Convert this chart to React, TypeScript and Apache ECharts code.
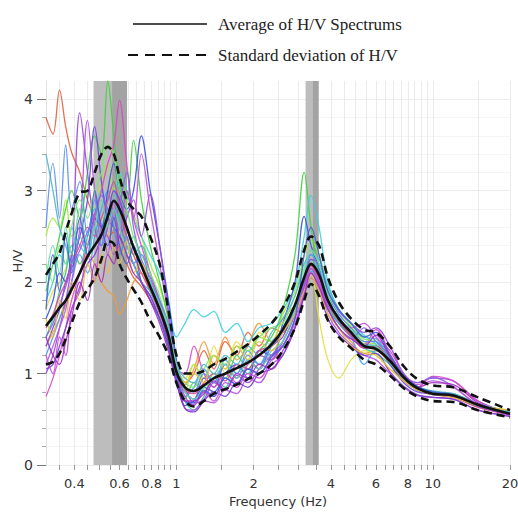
import React, { useEffect, useRef } from 'react';
import * as echarts from 'echarts';

// Frequencies (Hz) at which the spectra are sampled
const FREQ = [0.31, 0.33, 0.35, 0.37, 0.39, 0.42, 0.45, 0.48, 0.51, 0.54, 0.57, 0.6, 0.64, 0.68, 0.73, 0.79, 0.86, 0.93, 1.0, 1.08, 1.17, 1.28, 1.4, 1.55, 1.72, 1.9, 2.1, 2.35, 2.6, 2.9, 3.15, 3.35, 3.6, 3.9, 4.3, 4.8, 5.4, 6.0, 6.8, 7.7, 8.7, 10, 12, 15, 20];

const MEAN = [1.52, 1.62, 1.72, 1.8, 1.92, 2.1, 2.28, 2.4, 2.52, 2.72, 2.89, 2.8, 2.6, 2.38, 2.18, 1.95, 1.7, 1.42, 1.02, 0.85, 0.81, 0.87, 0.95, 1.0, 1.06, 1.12, 1.2, 1.32, 1.48, 1.75, 2.05, 2.2, 2.08, 1.8, 1.6, 1.45, 1.3, 1.27, 1.14, 0.96, 0.84, 0.78, 0.76, 0.66, 0.56];
const STD_UPPER = [2.08, 2.2, 2.32, 2.55, 2.75, 2.98, 3.0, 3.2, 3.4, 3.48, 3.4, 3.15, 2.9, 2.8, 2.72, 2.5, 2.2, 1.7, 1.2, 1.0, 1.0, 1.03, 1.1, 1.16, 1.24, 1.32, 1.42, 1.55, 1.72, 2.0, 2.35, 2.5, 2.4, 2.05, 1.78, 1.6, 1.48, 1.45, 1.3, 1.08, 0.94, 0.87, 0.85, 0.74, 0.6];
const STD_LOWER = [1.1, 1.13, 1.22, 1.38, 1.55, 1.78, 1.92, 2.05, 2.25, 2.45, 2.42, 2.2, 2.04, 1.92, 1.78, 1.58, 1.4, 1.2, 0.9, 0.7, 0.64, 0.7, 0.78, 0.83, 0.88, 0.94, 1.0, 1.1, 1.25, 1.5, 1.8, 1.98, 1.85, 1.58, 1.4, 1.28, 1.15, 1.1, 0.98, 0.84, 0.75, 0.7, 0.69, 0.6, 0.52];

// Individual H/V spectra
const HV_01 = [3.8, 3.62, 4.1, 3.7, 3.42, 3.2, 2.9, 2.7, 2.6, 2.5, 2.55, 2.35, 2.2, 2.05, 1.95, 1.8, 1.6, 1.3, 0.98, 0.9, 1.0, 1.25, 1.05, 1.35, 1.2, 1.45, 1.3, 1.5, 1.45, 1.75, 1.95, 2.15, 2.0, 1.75, 1.55, 1.4, 1.28, 1.3, 1.12, 0.94, 0.84, 0.8, 0.77, 0.66, 0.57];
const HV_02 = [1.3, 1.45, 1.6, 1.75, 1.9, 2.1, 2.3, 2.2, 2.0, 1.9, 1.85, 1.65, 1.8, 2.0, 2.1, 1.9, 1.7, 1.4, 1.02, 0.88, 1.05, 1.35, 1.1, 1.4, 1.15, 1.3, 1.55, 1.35, 1.6, 1.75, 2.0, 2.1, 1.95, 1.7, 1.5, 1.35, 1.22, 1.25, 1.1, 0.92, 0.82, 0.77, 0.74, 0.64, 0.56];
const HV_03 = [1.7, 1.9, 2.0, 2.15, 2.3, 2.2, 2.4, 2.6, 2.7, 2.5, 2.6, 2.55, 2.4, 2.3, 2.0, 1.85, 1.6, 1.35, 1.02, 0.95, 1.1, 0.9, 1.3, 1.0, 1.35, 1.2, 1.45, 1.3, 1.5, 1.65, 1.9, 2.1, 1.6, 1.15, 0.95, 1.15, 1.25, 1.2, 1.05, 0.95, 0.85, 0.8, 0.75, 0.66, 0.6];
const HV_04 = [2.5, 2.7, 2.6, 2.9, 2.5, 2.7, 3.0, 2.8, 3.1, 3.3, 3.0, 3.2, 2.9, 2.75, 2.5, 2.2, 1.95, 1.6, 1.1, 0.8, 1.1, 0.95, 1.2, 1.05, 1.3, 1.15, 1.4, 1.35, 1.65, 1.9, 2.3, 2.45, 2.3, 1.95, 1.7, 1.52, 1.35, 1.32, 1.18, 0.98, 0.86, 0.8, 0.78, 0.67, 0.58];
const HV_05 = [1.9, 2.2, 2.5, 2.8, 3.0, 2.7, 3.2, 3.6, 3.4, 4.2, 3.6, 3.1, 2.9, 3.55, 2.9, 2.4, 2.0, 1.6, 1.05, 0.72, 0.9, 0.8, 1.0, 0.95, 1.2, 1.05, 1.25, 1.4, 1.7, 2.3, 3.2, 2.6, 2.1, 1.75, 1.55, 1.42, 1.32, 1.28, 1.12, 0.94, 0.82, 0.77, 0.75, 0.64, 0.55];
const HV_06 = [1.4, 1.6, 1.9, 2.1, 2.4, 2.2, 2.5, 2.8, 2.6, 2.9, 3.1, 2.7, 2.5, 2.3, 2.4, 2.1, 1.8, 1.5, 1.05, 0.7, 0.6, 0.75, 0.95, 0.85, 1.1, 1.0, 1.2, 1.15, 1.5, 1.75, 2.05, 2.25, 2.1, 1.8, 1.58, 1.42, 1.28, 1.22, 1.1, 0.92, 0.82, 0.77, 0.75, 0.64, 0.56];
const HV_07 = [1.8, 2.0, 2.3, 2.2, 2.6, 2.4, 2.3, 2.7, 3.0, 2.8, 2.9, 3.2, 3.0, 2.7, 2.5, 2.3, 2.1, 1.8, 1.4, 1.55, 1.7, 1.62, 1.68, 1.45, 1.55, 1.35, 1.5, 1.55, 1.7, 1.95, 2.5, 2.95, 2.6, 2.0, 1.7, 1.55, 1.42, 1.32, 1.16, 0.96, 0.85, 0.8, 0.78, 0.67, 0.58];
const HV_08 = [1.2, 1.4, 1.6, 1.8, 2.0, 2.3, 2.1, 2.5, 2.8, 3.0, 2.7, 2.9, 2.6, 2.4, 2.2, 2.0, 1.75, 1.45, 1.0, 0.75, 0.85, 1.05, 0.9, 1.15, 1.0, 1.25, 1.1, 1.35, 1.45, 1.7, 1.95, 2.12, 2.0, 1.7, 1.55, 1.4, 1.1, 1.25, 1.15, 0.95, 0.82, 0.78, 0.76, 0.65, 0.57];
const HV_09 = [1.6, 1.8, 2.1, 2.0, 2.3, 2.6, 2.4, 2.7, 2.6, 3.0, 3.3, 3.0, 2.8, 3.0, 3.6, 3.0, 2.4, 1.8, 1.15, 0.65, 0.7, 0.85, 0.8, 1.0, 1.1, 0.95, 1.25, 1.2, 1.55, 2.0, 2.72, 2.4, 2.15, 1.8, 1.62, 1.45, 1.32, 1.3, 1.15, 0.95, 0.84, 0.78, 0.76, 0.64, 0.55];
const HV_10 = [1.3, 1.5, 1.7, 2.0, 2.2, 2.5, 2.9, 3.7, 3.1, 2.7, 2.6, 2.5, 2.3, 2.2, 2.0, 1.8, 1.6, 1.35, 0.98, 0.8, 0.72, 0.95, 0.85, 1.1, 0.95, 1.15, 1.05, 1.3, 1.4, 1.75, 2.0, 2.18, 2.05, 1.78, 1.58, 1.42, 1.28, 1.3, 1.1, 0.9, 0.8, 0.78, 0.76, 0.64, 0.55];
const HV_11 = [1.0, 1.2, 1.5, 1.8, 2.2, 3.85, 3.2, 2.6, 2.4, 2.6, 2.8, 2.5, 2.7, 2.9, 2.5, 2.96, 2.4, 1.7, 1.1, 0.85, 0.68, 0.72, 0.9, 0.82, 0.98, 0.9, 1.05, 1.2, 1.3, 1.6, 1.95, 2.25, 2.2, 1.9, 1.68, 1.55, 1.45, 1.5, 1.3, 1.0, 0.9, 0.95, 0.92, 0.7, 0.56];
const HV_12 = [1.1, 1.3, 1.5, 1.7, 2.0, 2.6, 3.77, 3.0, 2.6, 2.5, 2.3, 2.6, 2.4, 2.2, 2.0, 1.85, 1.6, 1.3, 0.92, 0.62, 0.6, 0.7, 0.68, 0.82, 0.78, 0.95, 0.9, 1.1, 1.2, 1.5, 1.9, 2.1, 1.95, 1.65, 1.45, 1.32, 1.2, 1.15, 1.0, 0.85, 0.76, 0.74, 0.72, 0.6, 0.54];
const HV_13 = [0.75, 0.95, 1.2, 1.5, 1.8, 2.1, 2.4, 2.7, 3.0, 3.3, 3.5, 3.99, 3.3, 2.7, 2.4, 2.1, 1.8, 1.5, 1.05, 1.0, 1.3, 1.0, 0.85, 1.0, 0.9, 1.1, 1.2, 1.15, 1.35, 1.65, 2.0, 2.2, 2.05, 1.78, 1.6, 1.45, 1.32, 1.48, 1.22, 0.96, 0.85, 0.97, 0.92, 0.7, 0.57];
const HV_14 = [1.5, 1.65, 1.85, 2.0, 2.2, 2.4, 2.6, 2.5, 2.7, 2.9, 3.1, 2.8, 2.5, 2.3, 2.1, 1.9, 1.65, 1.35, 0.98, 0.82, 0.78, 0.9, 1.0, 0.92, 1.1, 1.05, 1.25, 1.3, 1.45, 1.75, 2.02, 2.18, 2.05, 1.78, 1.58, 1.42, 1.28, 1.3, 1.12, 0.93, 0.82, 0.77, 0.74, 0.63, 0.55];
const HV_15 = [2.2, 2.0, 2.4, 2.2, 2.6, 2.9, 2.7, 3.0, 3.2, 3.5, 3.4, 3.0, 2.8, 2.5, 2.3, 2.1, 1.85, 1.5, 1.08, 0.9, 0.85, 1.05, 1.2, 1.1, 1.3, 1.25, 1.4, 1.5, 1.55, 1.85, 2.15, 2.35, 2.2, 1.88, 1.65, 1.5, 1.38, 1.35, 1.16, 0.96, 0.83, 0.8, 0.77, 0.66, 0.58];
const HV_16 = [1.05, 1.1, 1.3, 1.5, 1.7, 1.95, 2.2, 2.3, 2.5, 2.7, 3.0, 2.9, 2.6, 2.4, 2.2, 2.0, 1.7, 1.35, 0.92, 0.62, 0.58, 0.7, 0.8, 0.75, 0.9, 0.85, 1.0, 1.05, 1.2, 1.5, 1.85, 2.05, 1.9, 1.6, 1.42, 1.3, 1.2, 1.22, 1.02, 0.86, 0.77, 0.74, 0.72, 0.6, 0.53];
const HV_17 = [3.4, 3.0, 2.6, 2.4, 2.2, 2.5, 2.3, 2.6, 2.4, 2.7, 2.9, 2.6, 2.4, 2.2, 2.0, 1.9, 1.7, 1.5, 1.1, 0.95, 0.9, 1.1, 1.0, 1.2, 1.1, 1.3, 1.2, 1.45, 1.6, 1.85, 2.2, 2.3, 2.25, 1.95, 1.7, 1.55, 1.4, 1.38, 1.2, 0.98, 0.86, 0.81, 0.78, 0.67, 0.58];
const HV_18 = [1.4, 1.55, 1.75, 1.95, 2.15, 2.35, 2.55, 2.75, 2.95, 2.8, 2.7, 2.85, 3.2, 2.6, 2.25, 2.05, 1.75, 1.45, 1.02, 0.7, 0.66, 0.8, 0.75, 0.95, 0.88, 1.05, 1.0, 1.2, 1.35, 1.65, 2.0, 2.15, 2.0, 1.72, 1.5, 1.38, 1.5, 1.35, 1.2, 0.98, 0.9, 0.96, 0.86, 0.66, 0.55];
const HV_19 = [2.6, 3.3, 2.7, 3.5, 2.8, 3.1, 2.5, 2.9, 2.4, 2.8, 2.6, 2.3, 2.5, 2.2, 2.3, 2.0, 1.8, 1.55, 1.1, 0.85, 0.8, 1.0, 0.9, 1.1, 1.0, 1.2, 1.1, 1.3, 1.45, 1.7, 2.05, 2.3, 2.15, 1.85, 1.65, 1.5, 1.35, 1.35, 1.15, 0.96, 0.84, 0.8, 0.77, 0.66, 0.57];
const HV_20 = [1.2, 1.0, 1.4, 1.2, 1.7, 1.9, 2.3, 2.0, 2.6, 2.3, 2.9, 2.5, 3.0, 2.7, 3.4, 2.8, 2.2, 1.65, 1.05, 0.75, 0.65, 0.8, 0.7, 0.9, 0.85, 1.0, 0.95, 1.15, 1.3, 1.55, 1.9, 2.15, 2.0, 1.75, 1.6, 1.5, 1.55, 1.4, 1.25, 1.0, 0.88, 0.92, 0.85, 0.66, 0.55];
const HV_21 = [2.0, 2.4, 2.1, 2.6, 2.3, 2.8, 2.4, 2.6, 2.9, 2.6, 2.8, 2.6, 2.3, 2.5, 2.2, 2.0, 1.75, 1.5, 1.1, 0.8, 0.72, 0.85, 0.95, 1.1, 0.95, 1.15, 1.05, 1.25, 1.35, 1.7, 2.1, 2.35, 2.2, 1.85, 1.6, 1.48, 1.32, 1.3, 1.12, 0.94, 0.83, 0.79, 0.76, 0.65, 0.57];
const HV_22 = [1.6, 1.4, 1.8, 1.6, 2.0, 1.8, 2.2, 2.0, 2.3, 2.1, 2.4, 2.2, 2.45, 2.1, 2.2, 1.95, 1.7, 1.4, 1.0, 0.9, 1.0, 0.9, 1.2, 1.05, 1.3, 1.15, 1.35, 1.25, 1.45, 1.65, 1.9, 2.05, 1.9, 1.65, 1.5, 1.3, 1.22, 1.2, 1.05, 0.92, 0.82, 0.78, 0.74, 0.65, 0.6];
const HV_23 = [1.7, 2.3, 1.9, 2.5, 2.1, 2.7, 2.3, 3.0, 2.6, 2.4, 2.7, 2.4, 2.2, 2.4, 2.0, 1.85, 1.6, 1.3, 0.95, 0.7, 0.68, 0.82, 0.75, 0.95, 0.88, 1.05, 1.0, 1.18, 1.3, 1.6, 2.3, 2.6, 2.3, 1.9, 1.7, 1.55, 1.4, 1.45, 1.2, 0.98, 0.86, 0.8, 0.77, 0.65, 0.56];
const HV_24 = [1.4, 1.2, 1.1, 1.35, 1.6, 2.0, 1.8, 2.2, 2.0, 2.3, 2.2, 2.5, 2.3, 2.1, 2.0, 1.8, 1.55, 1.25, 0.9, 0.7, 0.7, 0.78, 0.92, 0.82, 1.0, 0.95, 1.1, 1.05, 1.25, 1.5, 1.85, 2.1, 1.95, 1.7, 1.5, 1.38, 1.3, 1.42, 1.18, 0.95, 0.85, 0.9, 0.88, 0.68, 0.55];

const SPECTRA = [HV_01, HV_02, HV_03, HV_04, HV_05, HV_06, HV_07, HV_08, HV_09, HV_10, HV_11, HV_12, HV_13, HV_14, HV_15, HV_16, HV_17, HV_18, HV_19, HV_20, HV_21, HV_22, HV_23, HV_24];

// Shaded frequency ranges (Hz)
const BAND_LIGHT = [[0.475, 0.561], [3.19, 3.39]];
const BAND_DARK = [[0.561, 0.642], [3.39, 3.59]];

// Axis ticks and labels
const X_LABELS = [0.4, 0.6, 0.8, 1, 2, 4, 6, 8, 10, 20];
const X_TICKS = [0.35, 0.4, 0.45, 0.5, 0.55, 0.6, 0.65, 0.7, 0.75, 0.8, 0.85, 0.9, 0.95, 1, 1.5, 2, 2.5, 3, 3.5, 4, 4.5, 5, 5.5, 6, 6.5, 7, 7.5, 8, 8.5, 9, 9.5, 10, 15, 20];
const Y_LABELS = [0, 1, 2, 3, 4];

const LEGEND_MEAN = 'Average of H/V Spectrums';
const LEGEND_STD = 'Standard deviation of H/V';

const COLORS = ['#e2603c', '#f29a3a', '#e6df3e', '#a6e83a', '#3fd23f', '#2fc79f', '#3ecfe0', '#4a9fe8', '#3a52e0', '#6848d8', '#9848d8', '#b050e0', '#d848c8', '#e04890', '#78e878', '#7a3ad0', '#4fb6c9', '#8c60e6', '#5a8ef0', '#c050d8', '#62d8a8', '#e8c040', '#4060d8', '#a030c0'];

const pairs = (ys: number[]) => FREQ.map((f, i) => [f, ys[i]]);

export default function App() {
  const ref = useRef<HTMLDivElement>(null);
  useEffect(() => {
    if (!ref.current) return;
    const chart = echarts.init(ref.current, undefined, { renderer: 'svg' });
    const sans = 'DejaVu Sans';
    const series: any[] = SPECTRA.map((ys, i) => ({
      type: 'line',
      name: 'HV' + (i + 1),
      data: pairs(ys),
      symbol: 'none',
      smooth: 0.35,
      z: 2,
      lineStyle: { color: COLORS[i % COLORS.length], width: 1.3, opacity: 0.9 },
      silent: true,
    }));
    series.push({
      type: 'line',
      name: 'bands',
      data: [],
      z: 1,
      markArea: {
        silent: true,
        z: 1,
        data: [
          ...BAND_LIGHT.map(([a, b]) => [
            { xAxis: a, yAxis: 0, itemStyle: { color: '#bdbdbd' } },
            { xAxis: b, yAxis: 4.2 },
          ]),
          ...BAND_DARK.map(([a, b]) => [
            { xAxis: a, yAxis: 0, itemStyle: { color: '#a3a3a3' } },
            { xAxis: b, yAxis: 4.2 },
          ]),
        ],
      },
    });
    const blackLine = (name: string, ys: number[], dashed: boolean) => ({
      type: 'line',
      name,
      data: pairs(ys),
      symbol: 'none',
      smooth: 0.35,
      z: 5,
      silent: true,
      lineStyle: { color: '#111', width: 2.6, type: dashed ? [8, 5] : 'solid' },
    });
    series.push(blackLine('upper', STD_UPPER, true));
    series.push(blackLine('lower', STD_LOWER, true));
    series.push(blackLine('mean', MEAN, false));

    chart.setOption({
      animation: false,
      backgroundColor: '#ffffff',
      grid: { left: 46, right: 8, top: 81, bottom: 47, outerBoundsMode: 'none', containLabel: false },
      xAxis: {
        type: 'log',
        logBase: 10,
        min: 0.31,
        max: 20,
        name: 'Frequency (Hz)',
        nameLocation: 'middle',
        nameGap: 30,
        nameTextStyle: { fontFamily: sans, fontSize: 13, color: '#333' },
        axisLine: { show: false },
        axisTick: { show: true, length: 5, customValues: X_TICKS, lineStyle: { color: '#999' } },
        minorTick: { show: false },
        axisLabel: {
          customValues: X_LABELS,
          formatter: (v: number) => String(Math.round(v * 100) / 100),
          fontFamily: sans,
          fontSize: 13,
          color: '#333',
          margin: 12,
        },
        splitLine: { show: true, customValues: X_TICKS, lineStyle: { color: '#ebebeb', width: 1 } },
      },
      yAxis: {
        type: 'value',
        min: 0,
        max: 4.2,
        interval: 1,
        name: 'H/V',
        nameLocation: 'middle',
        nameGap: 22,
        nameMoveOverlap: false,
        nameTextStyle: { fontFamily: sans, fontSize: 13, color: '#333', padding: [0, 0, 0, 24] },
        axisLine: { show: true, lineStyle: { color: '#e0e0e0' } },
        axisTick: { show: true, length: 9, customValues: Y_LABELS, lineStyle: { color: '#777' } },
        minorTick: { show: true, splitNumber: 5, length: 4, lineStyle: { color: '#aaa' } },
        axisLabel: { customValues: Y_LABELS, fontFamily: sans, fontSize: 14, color: '#333', margin: 13 },
        splitLine: { show: true, lineStyle: { color: '#ececec' } },
        minorSplitLine: { show: true, lineStyle: { color: '#f4f4f4' } },
      },
      graphic: [
        { type: 'line', shape: { x1: 133, y1: 24, x2: 207, y2: 24 }, style: { stroke: '#111', lineWidth: 1.5 } },
        { type: 'text', x: 218, y: 24, style: { text: LEGEND_MEAN, fontFamily: 'Liberation Serif', fontSize: 17, fill: '#222', verticalAlign: 'middle' } },
        { type: 'line', shape: { x1: 128, y1: 55, x2: 206, y2: 55 }, style: { stroke: '#111', lineWidth: 2, lineDash: [10, 7] } },
        { type: 'text', x: 218, y: 55, style: { text: LEGEND_STD, fontFamily: 'Liberation Serif', fontSize: 17, fill: '#222', verticalAlign: 'middle' } },
      ],
      series,
    });
    return () => chart.dispose();
  }, []);
  return <div ref={ref} style={{ position: 'fixed', left: 0, top: 0, width: 518, height: 512 }} />;
}
